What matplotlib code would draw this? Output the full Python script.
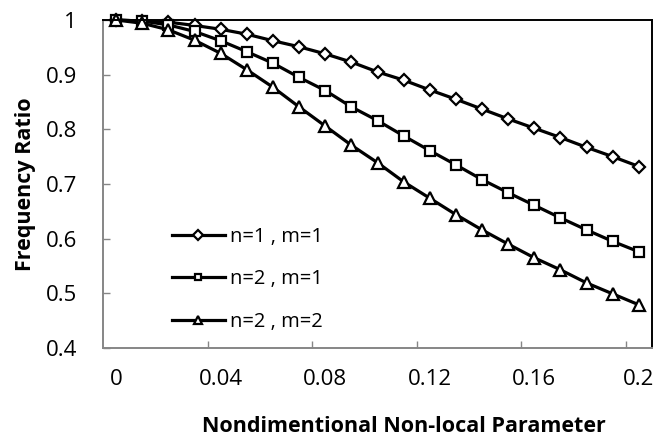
import matplotlib
matplotlib.use("Agg")
import matplotlib.pyplot as plt
from matplotlib.ticker import FixedLocator

plt.rcParams['font.family'] = ['Open Sans', 'DejaVu Sans']

# data
x = [0.00, 0.01, 0.02, 0.03, 0.04, 0.05, 0.06, 0.07, 0.08, 0.09, 0.10,
     0.11, 0.12, 0.13, 0.14, 0.15, 0.16, 0.17, 0.18, 0.19, 0.20]
n1m1 = [1.000, 0.998, 0.996, 0.990, 0.983, 0.974, 0.962, 0.951, 0.938, 0.923, 0.905,
        0.890, 0.872, 0.855, 0.837, 0.819, 0.802, 0.785, 0.767, 0.750, 0.732]
n2m1 = [1.000, 0.998, 0.991, 0.979, 0.962, 0.942, 0.921, 0.895, 0.871, 0.841, 0.816,
        0.788, 0.761, 0.735, 0.708, 0.684, 0.661, 0.638, 0.616, 0.595, 0.576]
n2m2 = [1.000, 0.994, 0.982, 0.963, 0.939, 0.909, 0.877, 0.841, 0.806, 0.771, 0.739,
        0.704, 0.674, 0.644, 0.616, 0.590, 0.565, 0.543, 0.519, 0.499, 0.479]
labels = ["n=1 , m=1", "n=2 , m=1", "n=2 , m=2"]
xticks = [0, 0.04, 0.08, 0.12, 0.16, 0.2]
xticklabels = ["0", "0.04", "0.08", "0.12", "0.16", "0.2"]
yticks = [0.4, 0.5, 0.6, 0.7, 0.8, 0.9, 1.0]
yticklabels = ["0.4", "0.5", "0.6", "0.7", "0.8", "0.9", "1"]

fig = plt.figure(figsize=(6.55, 4.43), dpi=100)
ax = fig.add_axes([0.1573, 0.2144, 0.8381, 0.7405])

style = dict(color="black", lw=2.3, markerfacecolor="white",
             markeredgecolor="black", markeredgewidth=1.6, clip_on=False)
ax.plot(x, n1m1, marker="D", markersize=6.5, label=labels[0], **style)
ax.plot(x, n2m1, marker="s", markersize=6.5, label=labels[1], **style)
ax.plot(x, n2m2, marker="^", markersize=8, label=labels[2], **style)

ax.set_xlim(-0.005, 0.205)
ax.set_ylim(0.4, 1.0)

# category-style axis: labels on categories, tick marks between them
ax.set_xticks(xticks)
ax.set_xticklabels(xticklabels)
ax.xaxis.set_minor_locator(FixedLocator([0.035, 0.075, 0.115, 0.155, 0.195]))
ax.tick_params(axis="x", which="major", length=0, pad=15, labelsize=16)
ax.tick_params(axis="x", which="minor", direction="in", length=5,
               width=1, color="#868686")
ax.set_yticks(yticks)
ax.set_yticklabels(yticklabels)
ax.tick_params(axis="y", direction="in", length=5, width=1, color="#868686",
               pad=18.7, labelsize=16)

for s in ["left", "bottom"]:
    ax.spines[s].set_color("#868686")
    ax.spines[s].set_linewidth(1.4)
for s in ["top", "right"]:
    ax.spines[s].set_color("black")
    ax.spines[s].set_linewidth(1.4)

ax.set_xlabel("Nondimentional Non-local Parameter", fontsize=15.5,
              fontweight="bold", labelpad=19)
ax.xaxis.label.set_x(0.548)
ax.set_ylabel("Frequency Ratio", fontsize=15.5, fontweight="bold", labelpad=7)

ax.legend(loc="upper left", bbox_to_anchor=(0.125, 0.37), frameon=False,
          fontsize=14.5, handlelength=2.64, handletextpad=0.28,
          labelspacing=1.12, borderpad=0, borderaxespad=0, markerscale=0.75)

fig.savefig("out.png", dpi=100)
